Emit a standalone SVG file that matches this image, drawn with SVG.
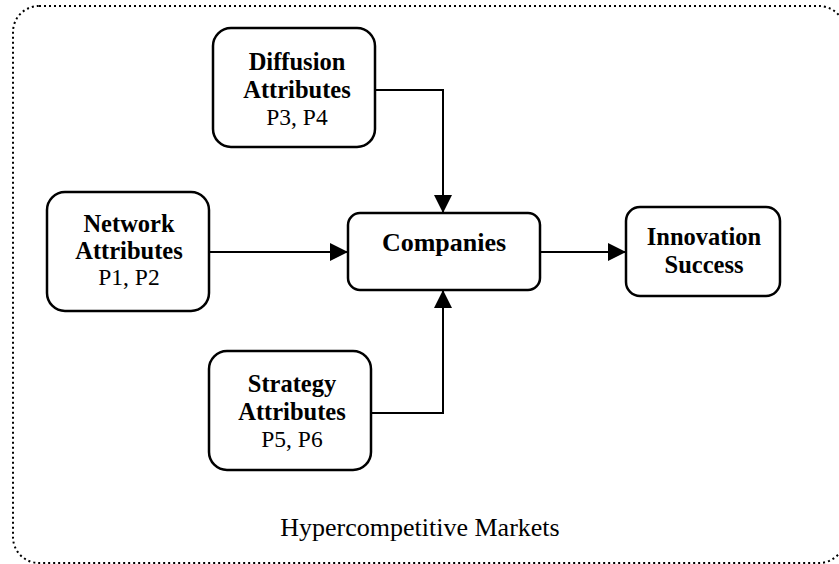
<svg xmlns="http://www.w3.org/2000/svg" width="839" height="564" viewBox="0 0 839 564">
  <style>
    .frame { fill: none; stroke: #000; stroke-width: 2; stroke-dasharray: 2 3; }
    .box { fill: #fff; stroke: #000; stroke-width: 2.5; }
    .b { font-family: "Liberation Serif", "Times New Roman", serif; font-weight: bold; font-size: 24.5px; text-anchor: middle; fill: #000; }
    .r { font-family: "Liberation Serif", "Times New Roman", serif; font-size: 23.5px; text-anchor: middle; fill: #000; }
    .wire { fill: none; stroke: #000; stroke-width: 2; }
  </style>
  <defs>
    <marker id="head" viewBox="0 0 18 18" refX="18" refY="9" markerWidth="18" markerHeight="18" markerUnits="userSpaceOnUse" orient="auto">
      <path d="M0,0 L18,9 L0,18 Z" fill="#000"/>
    </marker>
  </defs>

  <!-- market boundary -->
  <rect class="frame" x="13" y="6" width="832" height="557" rx="26"/>
  <text class="r" x="420" y="536" style="font-size:26px">Hypercompetitive Markets</text>

  <!-- connectors -->
  <g id="connectors">
    <path class="wire" d="M375,90 H443 V213" marker-end="url(#head)"/>
    <path class="wire" d="M209,252 H348" marker-end="url(#head)"/>
    <path class="wire" d="M371,413 H443 V290" marker-end="url(#head)"/>
    <path class="wire" d="M540,252 H626" marker-end="url(#head)"/>
  </g>

  <g id="diffusion">
    <rect class="box" x="213" y="28" width="162" height="119" rx="18"/>
    <text class="b" x="297" y="70">Diffusion</text>
    <text class="b" x="297" y="98">Attributes</text>
    <text class="r" x="297" y="125">P3, P4</text>
  </g>

  <g id="network">
    <rect class="box" x="47" y="192" width="162" height="119" rx="18"/>
    <text class="b" x="129" y="232">Network</text>
    <text class="b" x="129" y="259">Attributes</text>
    <text class="r" x="129" y="285">P1, P2</text>
  </g>

  <g id="companies">
    <rect class="box" x="348" y="213" width="192" height="77" rx="12"/>
    <text class="b" x="444" y="251" style="font-size:26px">Companies</text>
  </g>

  <g id="innovation">
    <rect class="box" x="626" y="207" width="154" height="89" rx="14"/>
    <text class="b" x="704" y="245">Innovation</text>
    <text class="b" x="704" y="273">Success</text>
  </g>

  <g id="strategy">
    <rect class="box" x="209" y="351" width="162" height="119" rx="18"/>
    <text class="b" x="292" y="392">Strategy</text>
    <text class="b" x="292" y="420">Attributes</text>
    <text class="r" x="292" y="447">P5, P6</text>
  </g>
</svg>
